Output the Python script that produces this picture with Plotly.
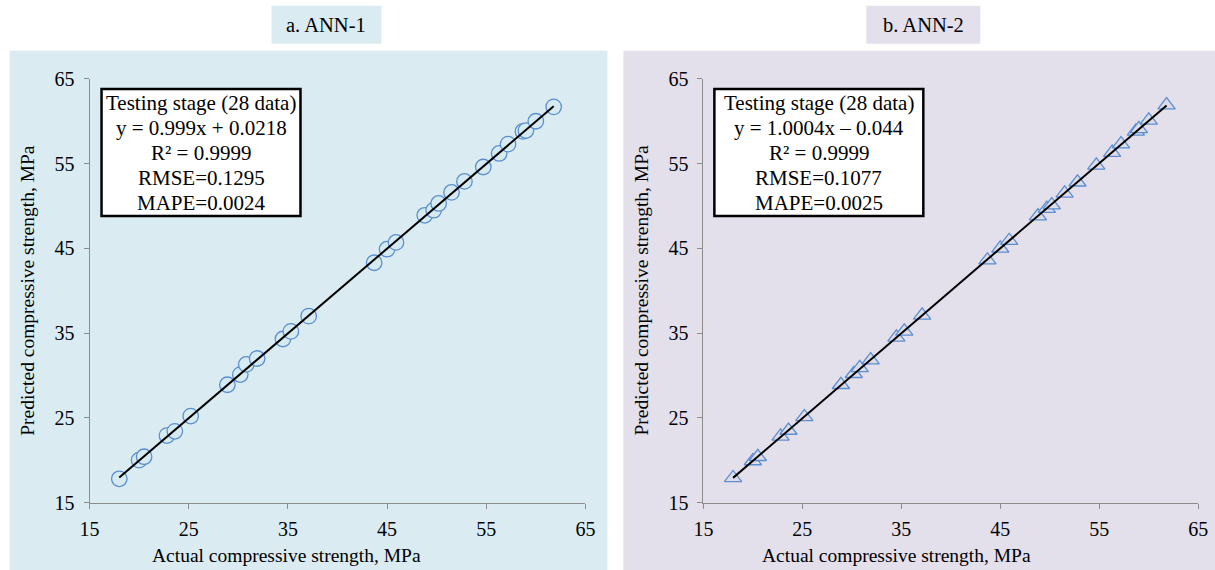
import numpy as np
import plotly.graph_objects as go

# ---------------- data ----------------
actual = [18.0, 20.0, 20.5, 22.8, 23.6, 25.2, 28.9, 30.2, 30.8, 31.9, 34.5, 35.3, 37.1,
          43.7, 45.0, 45.9, 48.8, 49.7, 50.2, 51.5, 52.8, 54.7, 56.3, 57.2, 58.7, 59.0,
          60.0, 61.8]
pred_ann1 = [17.8, 20.0, 20.4, 22.9, 23.4, 25.2, 28.9, 30.1, 31.3, 32.0, 34.3, 35.2, 37.0,
             43.3, 44.9, 45.7, 48.9, 49.5, 50.3, 51.6, 52.9, 54.6, 56.2, 57.3, 58.8, 58.9,
             60.0, 61.7]
pred_ann2 = [17.9, 19.9, 20.4, 22.8, 23.5, 25.1, 28.9, 30.2, 30.9, 31.8, 34.5, 35.2, 37.1,
             43.6, 45.0, 45.9, 48.8, 49.7, 50.1, 51.5, 52.8, 54.8, 56.3, 57.3, 58.8, 59.1,
             60.1, 61.9]
titles = ["a. ANN-1", "b. ANN-2"]
stats = [
    ["Testing stage (28 data)", "y = 0.999x + 0.0218", "R² = 0.9999", "RMSE=0.1295", "MAPE=0.0024"],
    ["Testing stage (28 data)", "y = 1.0004x – 0.044", "R² = 0.9999", "RMSE=0.1077", "MAPE=0.0025"],
]
tick_vals = [15, 25, 35, 45, 55, 65]
x_title = "Actual compressive strength, MPa"
y_title = "Predicted compressive strength, MPa"

W, H = 1215, 570
FONT = "Liberation Serif"
panel_colors = ["#daecf2", "#e3dfeb"]
marker_fill = ["rgba(214,234,242,1)", "rgba(222,220,232,1)"]
marker_line = "#5b8fcf"

# the rendered page is offset/scaled slightly; map target screen px -> figure px
OX, SX = 9.44, 0.9838
OY, SY = 11.2, 0.96


def px(t):
    return ((t - OX) / SX) / W


def py(t):
    return 1 - ((t - OY) / SY) / H


fig = go.Figure()

series = [pred_ann1, pred_ann2]
symbols = ["circle", "triangle-up"]
xdom = [(89, 585), (703, 1198)]
for i, pred in enumerate(series):
    xa = "x" if i == 0 else "x2"
    ya = "y" if i == 0 else "y2"
    fig.add_trace(go.Scatter(
        x=actual, y=pred, mode="markers", xaxis=xa, yaxis=ya,
        marker=dict(symbol=symbols[i], size=15.5 if i == 0 else 15,
                    color=marker_fill[i], line=dict(color=marker_line, width=1.3)),
        showlegend=False, cliponaxis=False,
    ))
    slope, icpt = np.polyfit(actual, pred, 1)
    xs = np.array([min(actual), max(actual)])
    fig.add_trace(go.Scatter(
        x=xs, y=slope * xs + icpt, mode="lines", xaxis=xa, yaxis=ya,
        line=dict(color="black", width=2), showlegend=False, cliponaxis=False,
    ))

axis_common = dict(
    range=[15, 65], tickvals=tick_vals, ticks="outside", ticklen=5,
    tickcolor="#8c8c8c", showline=True, linecolor="#8c8c8c", linewidth=1,
    showgrid=False, zeroline=False, tickfont=dict(family=FONT, size=20, color="black"),
    fixedrange=True,
)
ydom = [py(502), py(79)]
fig.update_layout(
    width=W, height=H, autosize=False,
    margin=dict(l=0, r=0, t=0, b=0),
    paper_bgcolor="white", plot_bgcolor="white",
    font=dict(family=FONT, color="black"),
    xaxis=dict(domain=[max(0, px(89)), px(585)], anchor="y", ticklabelstandoff=3,
               **axis_common),
    yaxis=dict(domain=ydom, anchor="x", ticklabelstandoff=5, **axis_common),
    xaxis2=dict(domain=[px(703), min(1, px(1198))], anchor="y2", ticklabelstandoff=3,
                **axis_common),
    yaxis2=dict(domain=ydom, anchor="x2", ticklabelstandoff=5, **axis_common),
)

# panel backgrounds, title boxes, stats boxes
panels = [(9, 607), (623, 1240)]
title_boxes = [(271, 381), (866, 980)]
stat_boxes = [(101, 300), (714, 923)]
shapes = []
for i in range(2):
    x0, x1 = panels[i]
    shapes.append(dict(type="rect", xref="paper", yref="paper", x0=px(x0),
                       x1=px(x1), y0=-0.05, y1=py(51),
                       fillcolor=panel_colors[i], line=dict(width=0), layer="below"))
    t0, t1 = title_boxes[i]
    shapes.append(dict(type="rect", xref="paper", yref="paper", x0=px(t0), x1=px(t1),
                       y0=py(44), y1=py(6), fillcolor=panel_colors[i],
                       line=dict(width=0), layer="below"))
    s0, s1 = stat_boxes[i]
    shapes.append(dict(type="rect", xref="paper", yref="paper", x0=px(s0), x1=px(s1),
                       y0=py(216), y1=py(89), fillcolor="white",
                       line=dict(color="black", width=2.5), layer="above"))
fig.update_layout(shapes=shapes)

annotations = []
xtitle_centers = [286, 896]
ytitle_centers = [27, 641]
for i in range(2):
    t0, t1 = title_boxes[i]
    annotations.append(dict(
        x=px((t0 + t1) / 2), y=py(25), xref="paper", yref="paper",
        text=titles[i], showarrow=False, xanchor="center", yanchor="middle",
        font=dict(family=FONT, size=20.5, color="black"),
    ))
    s0, s1 = stat_boxes[i]
    for j, line in enumerate(stats[i]):
        annotations.append(dict(
            x=px((s0 + s1) / 2), y=py(103 + 25 * j), xref="paper", yref="paper",
            text=line, showarrow=False, xanchor="center", yanchor="middle",
            font=dict(family=FONT, size=21, color="black"),
        ))
    annotations.append(dict(
        x=px(xtitle_centers[i]), y=py(555), xref="paper", yref="paper",
        text=x_title, showarrow=False, xanchor="center", yanchor="middle",
        font=dict(family=FONT, size=19.5, color="black"),
    ))
    annotations.append(dict(
        x=px(ytitle_centers[i]), y=py(290), xref="paper", yref="paper",
        text=y_title, showarrow=False, textangle=-90, xanchor="center", yanchor="middle",
        font=dict(family=FONT, size=19.5, color="black"),
    ))
fig.update_layout(annotations=annotations)

fig.write_html("out.html")
